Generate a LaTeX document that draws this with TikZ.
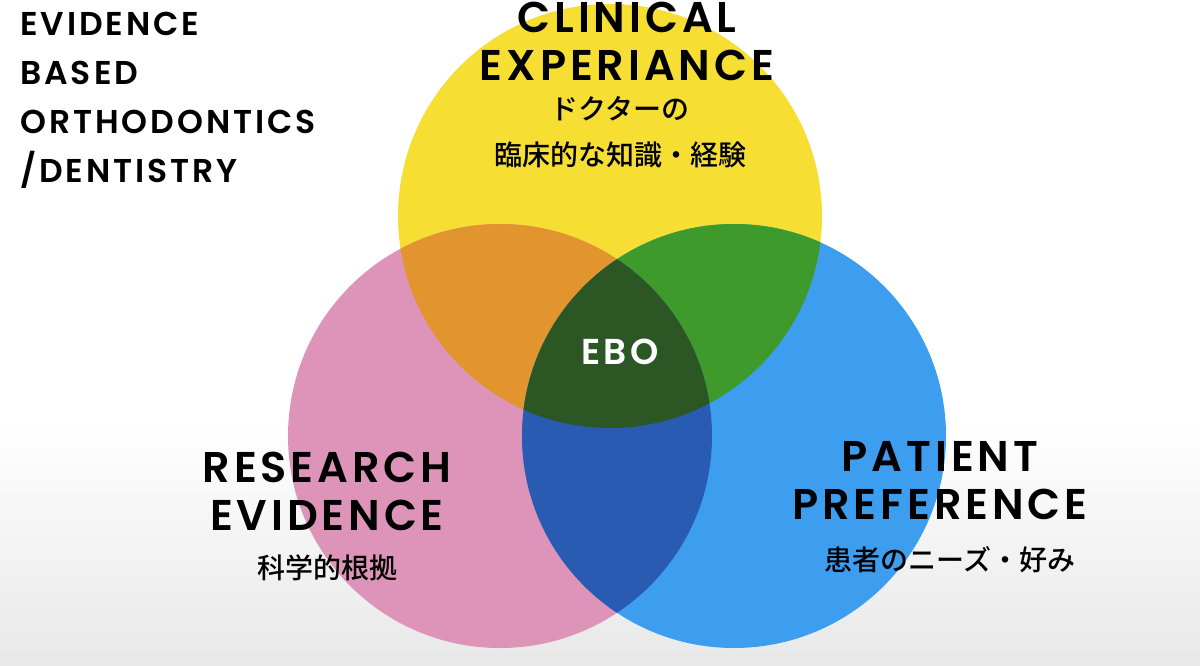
\documentclass[tikz,border=0pt]{standalone}
\usepackage{fontspec}
\setmainfont{Poppins}[UprightFont=* SemiBold,BoldFont=* SemiBold,LetterSpace=9]
\newfontfamily\jpfont{Noto Sans CJK JP Medium}
\tikzset{
  title/.style={font=\fontsize{43}{48}\selectfont, align=center, inner sep=0pt},
  side/.style={font=\fontsize{33}{49}\selectfont, align=left, anchor=north west, inner sep=0pt},
  jp/.style={font=\jpfont\fontsize{28}{46}\selectfont, align=center, inner sep=0pt}
}
\definecolor{cyel}{HTML}{F6DE33}
\definecolor{cpink}{HTML}{DE94B8}
\definecolor{cblue}{HTML}{3D9EF0}
\definecolor{corange}{HTML}{E2952E}
\definecolor{cgreen}{HTML}{3E9A2B}
\definecolor{cnavy}{HTML}{2A5BB2}
\definecolor{cdark}{HTML}{2C5725}
\begin{document}
\begin{tikzpicture}[x=1pt,y=-1pt]
	\useasboundingbox (0,0) rectangle (1200,665);
	\shade[top color=white, bottom color=black!9] (0,420) rectangle (1200,665);
	
	\coordinate (yc) at (610,216);
	\coordinate (pc) at (500,436);
	\coordinate (bc) at (734,436);
	\def\rad{212}
	
	\fill[cyel]  (yc) circle (\rad);
	\fill[cpink] (pc) circle (\rad);
	\fill[cblue] (bc) circle (\rad);
	\begin{scope}
		\clip (yc) circle (\rad);
		\fill[corange] (pc) circle (\rad);
		\fill[cgreen] (bc) circle (\rad);
	\end{scope}
	\begin{scope}
		\clip (pc) circle (\rad);
		\fill[cnavy] (bc) circle (\rad);
		\clip (bc) circle (\rad);
		\fill[cdark] (yc) circle (\rad);
	\end{scope}
	
	\node[side] (ebo) at (20,12) {EVIDENCE\\BASED\\ORTHODONTICS\\/DENTISTRY};
	
	\node[title] (clin) at (627,41) {CLINICAL\\EXPERIANCE};
	\node[jp] (clinjp) at (620,132) {ドクターの\\臨床的な知識・経験};
	
	\node[title, text=white, font=\fontsize{36}{40}\selectfont] (core) at (620,352) {EBO};
	
	\node[title] (res) at (327,491) {RESEARCH\\EVIDENCE};
	\node[jp] (resjp) at (327,568) {科学的根拠};
	
	\node[title] (pat) at (940,481) {PATIENT\\PREFERENCE};
	\node[jp] (patjp) at (950,560) {患者のニーズ・好み};
\end{tikzpicture}
\end{document}
